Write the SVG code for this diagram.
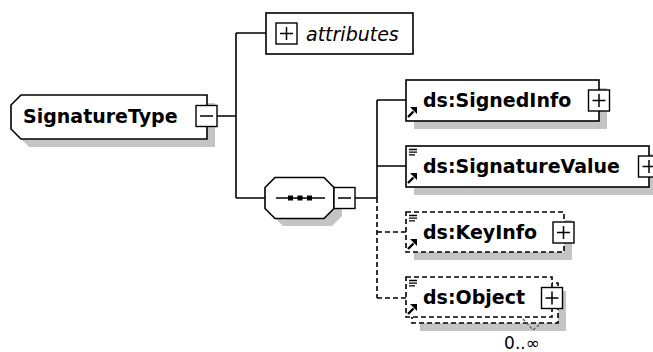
<svg xmlns="http://www.w3.org/2000/svg" width="653" height="352" viewBox="0 0 653 352">
  <style>
    .box{fill:#fff;stroke:#000;stroke-width:1.6}
    .dash{stroke-dasharray:5 3}
    .shadow{fill:#c4c4c4;stroke:none}
    .conn{fill:none;stroke:#000;stroke-width:1.6}
    .lbl{font-family:"DejaVu Sans",sans-serif;font-size:19px;font-weight:bold;fill:#000}
    .attr{font-family:"DejaVu Sans",sans-serif;font-size:19px;font-style:italic;fill:#000}
    .occ{font-family:"DejaVu Sans",sans-serif;font-size:17px;fill:#000}
    .btn{fill:#fff;stroke:#000;stroke-width:1.4}
    .sign{fill:none;stroke:#000;stroke-width:1.5}
  </style>
  <defs>
    <!-- expand / collapse buttons, centred on the origin -->
    <g id="plus">
      <rect class="btn" x="-10.5" y="-10.5" width="21" height="21"/>
      <path class="sign" d="M-6.5 0H6.5M0 -6.5V6.5"/>
    </g>
    <g id="minus">
      <rect class="btn" x="-10.5" y="-10.5" width="21" height="21"/>
      <path class="sign" d="M-6.5 0H6.5"/>
    </g>
    <!-- reference arrow in the lower-left corner of element boxes -->
    <g id="ref-arrow">
      <path d="M2 11L7.5 5.5" stroke="#000" stroke-width="2.4" fill="none"/>
      <path d="M4 1H11V8Z" fill="#000"/>
    </g>
    <!-- simple-content marker in the upper-left corner -->
    <g id="list-icon">
      <path d="M3 3.5H11M3 6.2H11M3 8.9H9" stroke="#000" stroke-width="1.3" fill="none"/>
    </g>
  </defs>

  <!-- connectors -->
  <g id="connectors">
    <path class="conn" d="M217 116H236M236 33V198M236 33H266M236 198H265"/>
    <path class="conn" d="M355 198H377M377 100V198M377 100H406M377 166H406"/>
    <path class="conn dash" d="M377 198V298M377 232H406M377 298H406"/>
  </g>

  <!-- SignatureType -->
  <g id="SignatureType">
    <polygon class="shadow" points="29,103 215,103 215,147 29,147 19,137 19,113"/>
    <polygon class="box" points="21,95 207,95 207,139 21,139 11,129 11,105"/>
    <text class="lbl" x="23" y="123">SignatureType</text>
    <use href="#minus" x="206.5" y="116"/>
  </g>

  <!-- attributes -->
  <g id="attributes">
    <rect class="box" x="266" y="13" width="147" height="41"/>
    <use href="#plus" x="286.5" y="33.5"/>
    <text class="attr" x="306" y="40.5">attributes</text>
  </g>

  <!-- sequence compositor -->
  <g id="sequence">
    <polygon class="shadow" points="283,185 332,185 342,195 342,216 332,226 283,226 273,216 273,195"/>
    <polygon class="box" points="275,177.5 324,177.5 334,187.5 334,208.5 324,218.5 275,218.5 265,208.5 265,187.5"/>
    <path d="M276 198H325" stroke="#000" stroke-width="1.6"/>
    <rect x="288" y="195.5" width="5" height="5" fill="#000"/>
    <rect x="297.5" y="195.5" width="5" height="5" fill="#000"/>
    <rect x="307" y="195.5" width="5" height="5" fill="#000"/>
    <use href="#minus" x="344.5" y="198"/>
  </g>

  <!-- ds:SignedInfo -->
  <g id="SignedInfo">
    <rect class="shadow" x="414" y="88" width="193" height="41"/>
    <rect class="box" x="406" y="80" width="193" height="41"/>
    <use href="#ref-arrow" x="406" y="106"/>
    <text class="lbl" x="423" y="106.5">ds:SignedInfo</text>
    <use href="#plus" x="599" y="100.5"/>
  </g>

  <!-- ds:SignatureValue -->
  <g id="SignatureValue">
    <rect class="shadow" x="414" y="154" width="243" height="41"/>
    <rect class="box" x="406" y="146" width="243" height="41"/>
    <use href="#list-icon" x="406" y="146"/>
    <use href="#ref-arrow" x="406" y="172"/>
    <text class="lbl" x="423" y="173">ds:SignatureValue</text>
    <use href="#plus" x="649" y="166.5"/>
  </g>

  <!-- ds:KeyInfo (optional) -->
  <g id="KeyInfo">
    <rect class="shadow" x="414" y="220" width="158" height="40"/>
    <rect class="box dash" x="406" y="212" width="158" height="40"/>
    <use href="#list-icon" x="406" y="212"/>
    <use href="#ref-arrow" x="406" y="238"/>
    <text class="lbl" x="423" y="239">ds:KeyInfo</text>
    <use href="#plus" x="563.5" y="232.5"/>
  </g>

  <!-- ds:Object (optional, repeating) -->
  <g id="Object">
    <rect class="shadow" x="420" y="291" width="146" height="40"/>
    <rect class="box dash" x="412" y="283" width="146" height="40"/>
    <rect class="box dash" x="406" y="277" width="146" height="40"/>
    <use href="#list-icon" x="406" y="277"/>
    <use href="#ref-arrow" x="406" y="303"/>
    <text class="lbl" x="423" y="304">ds:Object</text>
    <use href="#plus" x="552" y="298"/>
    <polyline points="523,319 533,330 539,325" fill="none" stroke="#555" stroke-width="1.2" stroke-dasharray="3 2"/>
    <text class="occ" x="522" y="348.5" text-anchor="middle">0..∞</text>
  </g>
</svg>
